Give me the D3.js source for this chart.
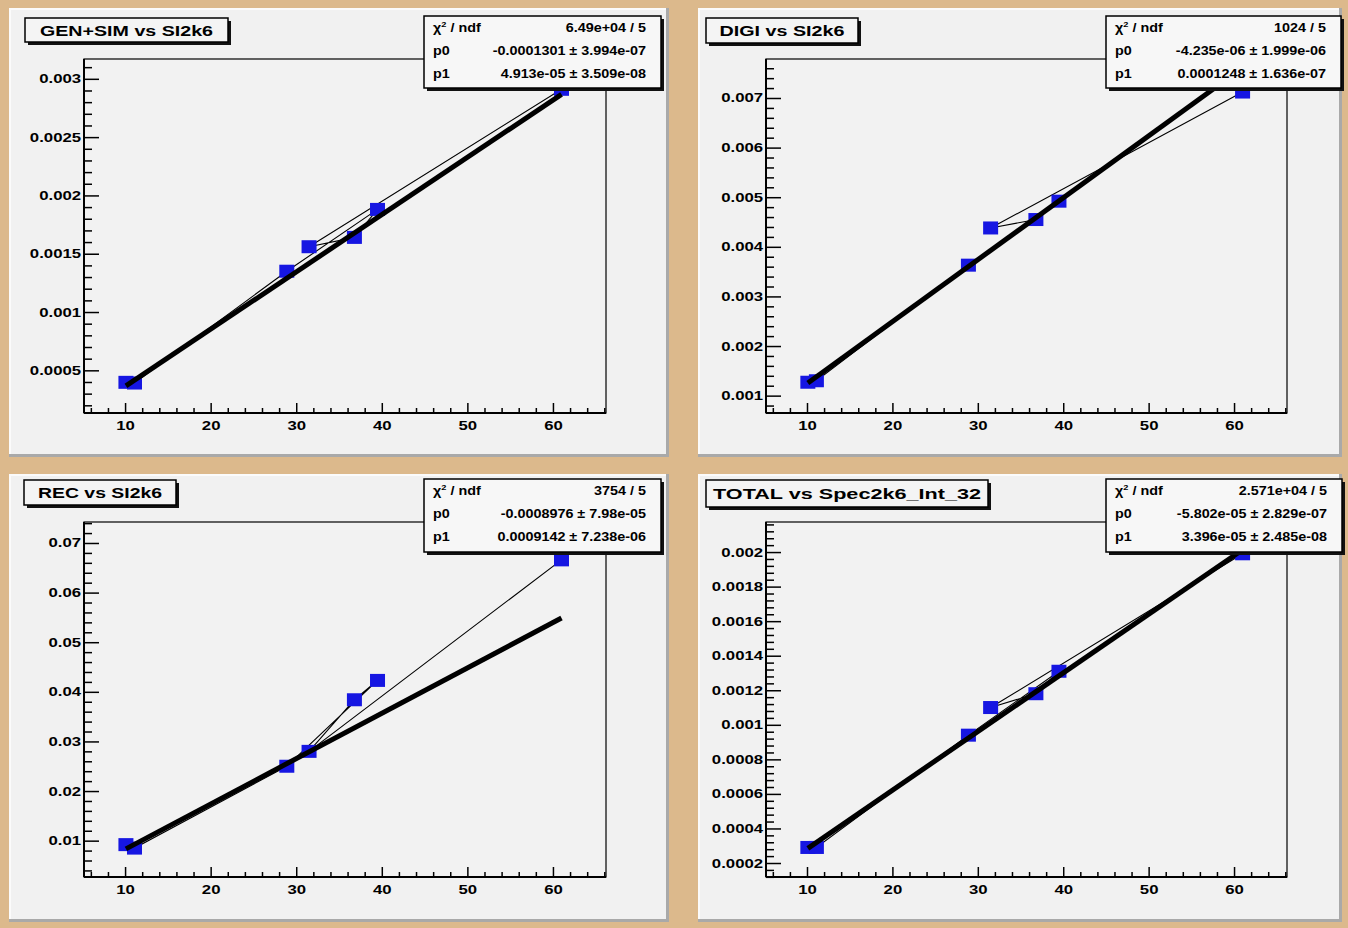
<!DOCTYPE html>
<html>
<head>
<meta charset="utf-8">
<script src="https://cdn.jsdelivr.net/npm/d3@7"></script>
<style>
  html, body { margin: 0; padding: 0; background: #dcb98c; }
  svg { display: block; }
</style>
</head>
<body>
<svg id="canvas" width="1348" height="928"></svg>
<script>
// Benchmark score of each test machine, in the order the graph points were filled
const benchScore = [10.1, 11.1, 28.9, 39.5, 36.8, 31.5, 61.0];

// CPU time per event for each step, same machine order
const genSimTime = [0.000397, 0.000391, 0.00135, 0.00188, 0.00164, 0.00156, 0.00291];
const digiTime   = [0.00127, 0.00130, 0.00363, 0.00492, 0.00455, 0.00438, 0.00712];
const recTime    = [0.0092, 0.0085, 0.0250, 0.0423, 0.0384, 0.0280, 0.0666];
const totalTime  = [0.00029, 0.00029, 0.00094, 0.00131, 0.00118, 0.00110, 0.00199];

const panelTitles = ["GEN+SIM vs SI2k6", "DIGI vs SI2k6", "REC vs SI2k6", "TOTAL vs Spec2k6_Int_32"];

// pol1 fit results shown in the stat boxes
const chi2Labels = ["6.49e+04 / 5", "1024 / 5", "3754 / 5", "2.571e+04 / 5"];
const p0Labels   = ["-0.0001301", "-4.235e-06", "-0.0008976", "-5.802e-05"];
const p0Errors   = ["3.994e-07", "1.999e-06", "7.98e-05", "2.829e-07"];
const p1Labels   = ["4.913e-05", "0.0001248", "0.0009142", "3.396e-05"];
const p1Errors   = ["3.509e-08", "1.636e-07", "7.238e-06", "2.485e-08"];

// axes
const xTickLabels = ["10", "20", "30", "40", "50", "60"];
const xRange = [5.2, 66.2];
const xMinorStep = 2;
const yTickLabels = [
  ["0.0005", "0.001", "0.0015", "0.002", "0.0025", "0.003"],
  ["0.001", "0.002", "0.003", "0.004", "0.005", "0.006", "0.007"],
  ["0.01", "0.02", "0.03", "0.04", "0.05", "0.06", "0.07"],
  ["0.0002", "0.0004", "0.0006", "0.0008", "0.001", "0.0012", "0.0014", "0.0016", "0.0018", "0.002"]
];
const yRanges = [
  [0.000134, 0.00317],
  [0.00065, 0.007786],
  [0.002675, 0.07423],
  [0.000119, 0.002174]
];

const series = [genSimTime, digiTime, recTime, totalTime];

// ---- layout of the 2x2 canvas ----
const FONT = "'Liberation Sans', Arial, Helvetica, sans-serif";
const SX = 1.34; // horizontal stretch of the glyphs
const pads = [
  { x: 9,   y: 8,   w: 660, h: 449 },
  { x: 698, y: 8,   w: 644, h: 449 },
  { x: 9,   y: 474, w: 660, h: 448 },
  { x: 698, y: 474, w: 644, h: 448 }
];
const frames = [
  { x0: 84,  y0: 59,  x1: 606,  y1: 413 },
  { x0: 766, y0: 59,  x1: 1287, y1: 413 },
  { x0: 84,  y0: 522, x1: 606,  y1: 877 },
  { x0: 766, y0: 522, x1: 1287, y1: 877 }
];
const titleBoxes = [
  { x: 25,  y: 18,  w: 203, h: 24, tw: 173 },
  { x: 706, y: 18,  w: 152, h: 25, tw: 125 },
  { x: 24,  y: 480, w: 152, h: 25, tw: 124 },
  { x: 706, y: 480, w: 282, h: 27, tw: 268 }
];
const statBoxes = [
  { x: 424,  y: 16,  w: 237, h: 72 },
  { x: 1106, y: 16,  w: 235, h: 72 },
  { x: 424,  y: 479, w: 237, h: 73 },
  { x: 1106, y: 479, w: 236, h: 73 }
];

const svg = d3.select("#canvas");
svg.append("rect").attr("width", 1348).attr("height", 928).attr("fill", "#dcb98c");

function sText(parent, x, y, str, o) {
  const g = parent.append("g").attr("transform", `translate(${x},${y}) scale(${o.sx || SX},1)`);
  return g.append("text")
    .attr("text-anchor", o.anchor || "start")
    .attr("font-family", FONT)
    .attr("font-size", o.size)
    .attr("font-weight", o.weight || "normal")
    .attr("fill", "#000")
    .text(str);
}

function minorValues(domain, step, majors) {
  const out = [];
  const k0 = Math.ceil(domain[0] / step - 1e-9), k1 = Math.floor(domain[1] / step + 1e-9);
  for (let k = k0; k <= k1; k++) {
    const v = k * step;
    if (!majors.some(m => Math.abs(m - v) < step * 1e-3)) out.push(v);
  }
  return out;
}

series.forEach((vals, i) => {
  const pad = pads[i], f = frames[i];
  const g = svg.append("g");

  // pad with bevelled border
  g.append("rect").attr("x", pad.x).attr("y", pad.y).attr("width", pad.w).attr("height", pad.h).attr("fill", "#f1f1f1");
  g.append("rect").attr("x", pad.x).attr("y", pad.y + pad.h - 3).attr("width", pad.w).attr("height", 3).attr("fill", "#a9a9a9");
  g.append("rect").attr("x", pad.x + pad.w - 3).attr("y", pad.y).attr("width", 3).attr("height", pad.h).attr("fill", "#a9a9a9");
  g.append("rect").attr("x", pad.x).attr("y", pad.y).attr("width", pad.w - 3).attr("height", 2).attr("fill", "#fbfbfb");
  g.append("rect").attr("x", pad.x).attr("y", pad.y).attr("width", 2).attr("height", pad.h - 3).attr("fill", "#fbfbfb");

  const x = d3.scaleLinear().domain(xRange).range([f.x0, f.x1]);
  const y = d3.scaleLinear().domain(yRanges[i]).range([f.y1, f.y0]);

  // frame
  g.append("rect").attr("x", f.x0).attr("y", f.y0).attr("width", f.x1 - f.x0).attr("height", f.y1 - f.y0)
    .attr("fill", "#f2f2f2").attr("stroke", "#000").attr("stroke-width", 1.2);

  const clipId = "clip" + i;
  g.append("clipPath").attr("id", clipId).append("rect")
    .attr("x", f.x0).attr("y", f.y0).attr("width", f.x1 - f.x0).attr("height", f.y1 - f.y0);
  const plot = g.append("g").attr("clip-path", `url(#${clipId})`);

  // graph polyline, points joined in fill order
  const pts = benchScore.map((b, k) => [x(b), y(vals[k])]);
  plot.append("path").attr("d", d3.line()(pts)).attr("fill", "none").attr("stroke", "#000").attr("stroke-width", 1.1);

  // markers
  plot.selectAll("rect.m").data(benchScore.map((b, k) => ({ b, v: vals[k] }))).join("rect")
    .attr("class", "m")
    .attr("x", d => x(d.b) - 7.5).attr("y", d => y(d.v) - 6.5)
    .attr("width", 15).attr("height", 13)
    .attr("fill", "#1616e2");

  // pol1 fit over the data range
  const p0 = +p0Labels[i], p1 = +p1Labels[i];
  const xr = d3.extent(benchScore);
  plot.append("path")
    .attr("d", d3.line()(xr.map(v => [x(v), y(p0 + p1 * v)])))
    .attr("fill", "none").attr("stroke", "#000").attr("stroke-width", 5).attr("stroke-linecap", "butt");

  // y axis
  const yMaj = yTickLabels[i].map(Number);
  const yStep = (yMaj[1] - yMaj[0]) / 5;
  const yAx = g.append("g").attr("transform", `translate(${f.x0},0)`)
    .call(d3.axisLeft(y).tickValues(yMaj).tickFormat((d, k) => yTickLabels[i][k])
      .tickSizeInner(-15).tickSizeOuter(0).tickPadding(2.2));
  const yMin = g.append("g").attr("transform", `translate(${f.x0},0)`)
    .call(d3.axisLeft(y).tickValues(minorValues(yRanges[i], yStep, yMaj)).tickFormat("")
      .tickSizeInner(-8).tickSizeOuter(0));

  // x axis
  const xMaj = xTickLabels.map(Number);
  const xAx = g.append("g").attr("transform", `translate(0,${f.y1})`)
    .call(d3.axisBottom(x).tickValues(xMaj).tickFormat((d, k) => xTickLabels[k])
      .tickSizeInner(-10).tickSizeOuter(0).tickPadding(8));
  const xMin = g.append("g").attr("transform", `translate(0,${f.y1})`)
    .call(d3.axisBottom(x).tickValues(minorValues(xRange, xMinorStep, xMaj)).tickFormat("")
      .tickSizeInner(-5).tickSizeOuter(0));

  [yAx, yMin, xAx, xMin].forEach(a => {
    a.select(".domain").remove();
    a.selectAll("line").attr("stroke", "#000").attr("stroke-width", 1.5);
    a.selectAll("text").attr("font-family", FONT).attr("font-size", 12.5).attr("font-weight", "bold")
      .attr("fill", "#000").attr("transform", `scale(${SX},1)`);
  });

  // axis lines
  g.append("line").attr("x1", f.x0).attr("x2", f.x0).attr("y1", f.y0).attr("y2", f.y1).attr("stroke", "#000").attr("stroke-width", 2);
  g.append("line").attr("x1", f.x0).attr("x2", f.x1).attr("y1", f.y1).attr("y2", f.y1).attr("stroke", "#000").attr("stroke-width", 2);

  // title box
  const tb = titleBoxes[i];
  g.append("rect").attr("x", tb.x + 3).attr("y", tb.y + 3).attr("width", tb.w).attr("height", tb.h).attr("fill", "#111");
  g.append("rect").attr("x", tb.x).attr("y", tb.y).attr("width", tb.w).attr("height", tb.h)
    .attr("fill", "#f4f4f4").attr("stroke", "#000").attr("stroke-width", 1.5);
  g.append("text")
    .attr("x", tb.x + tb.w / 2).attr("y", tb.y + tb.h / 2 + 5.5)
    .attr("text-anchor", "middle")
    .attr("font-family", FONT).attr("font-size", 15.5).attr("font-weight", "bold")
    .attr("textLength", tb.tw).attr("lengthAdjust", "spacingAndGlyphs")
    .text(panelTitles[i]);

  // fit statistics box
  const sb = statBoxes[i];
  g.append("rect").attr("x", sb.x + 3).attr("y", sb.y + 3).attr("width", sb.w).attr("height", sb.h).attr("fill", "#111");
  g.append("rect").attr("x", sb.x).attr("y", sb.y).attr("width", sb.w).attr("height", sb.h)
    .attr("fill", "#f7f7f7").attr("stroke", "#000").attr("stroke-width", 1.5);
  const lx = sb.x + 9, rx = sb.x + sb.w - 15;
  const rows = [sb.y + 16, sb.y + 39, sb.y + 62];
  const chi = sText(g, lx, rows[0], "\u03C7", { size: 12.5, weight: "bold", sx: 1.15 });
  chi.append("tspan").attr("dy", -5).attr("font-size", 8).text("2");
  chi.append("tspan").attr("dy", 5).text(" / ndf");
  sText(g, rx, rows[0], chi2Labels[i], { size: 12.5, weight: "bold", anchor: "end", sx: 1.15 });
  sText(g, lx, rows[1], "p0", { size: 12.5, weight: "bold", sx: 1.15 });
  sText(g, rx, rows[1], `${p0Labels[i]} \u00B1 ${p0Errors[i]}`, { size: 12.5, weight: "bold", anchor: "end", sx: 1.15 });
  sText(g, lx, rows[2], "p1", { size: 12.5, weight: "bold", sx: 1.15 });
  sText(g, rx, rows[2], `${p1Labels[i]} \u00B1 ${p1Errors[i]}`, { size: 12.5, weight: "bold", anchor: "end", sx: 1.15 });
});
</script>
</body>
</html>
